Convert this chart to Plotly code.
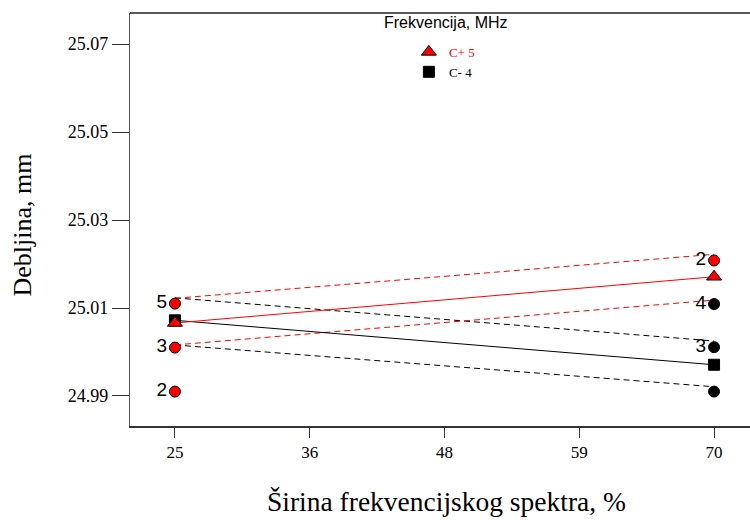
import plotly.graph_objects as go

# ---- data ----
x_levels = [25, 70]
x_tickvals = [25, 36.25, 47.5, 58.75, 70]
x_ticktext = ["25", "36", "48", "59", "70"]
y_tickvals = [24.99, 25.01, 25.03, 25.05, 25.07]
y_ticktext = ["24.99", "25.01", "25.03", "25.05", "25.07"]

c_plus_mean = [25.0066, 25.0171]
c_plus_upper = [25.0122, 25.0222]
c_plus_lower = [25.0016, 25.0118]
c_minus_mean = [25.0072, 24.9971]
c_minus_upper = [25.0123, 25.0025]
c_minus_lower = [25.0016, 24.9921]

red_pts_x = [25, 25, 25, 70]
red_pts_y = [25.0110, 25.0010, 24.9910, 25.0208]
red_pts_lbl = ["5", "3", "2", "2"]
black_pts_x = [70, 70, 70]
black_pts_y = [25.0109, 25.0011, 24.9910]
black_pts_lbl = ["4", "3", ""]

legend_title = "Frekvencija, MHz"
name_plus = "C+ 5"
name_minus = "C- 4"
x_title = "Širina frekvencijskog spektra, %"
y_title = "Debljina, mm"

RED = "#ff0000"
BLK = "#000000"
SERIF = "Liberation Serif, Times New Roman"
SANS = "Liberation Sans, Arial"

fig = go.Figure()

dash = "6px,4px"
# LSD dashed lines
for ys, col in [(c_minus_upper, BLK), (c_minus_lower, BLK),
                (c_plus_upper, RED), (c_plus_lower, RED)]:
    fig.add_trace(go.Scatter(x=x_levels, y=ys, mode="lines",
                             line=dict(color=col, width=1, dash=dash),
                             showlegend=False, hoverinfo="skip"))

# mean lines
fig.add_trace(go.Scatter(x=x_levels, y=c_minus_mean, mode="lines",
                         line=dict(color=BLK, width=1), showlegend=False))
fig.add_trace(go.Scatter(x=x_levels, y=c_plus_mean, mode="lines",
                         line=dict(color=RED, width=1), showlegend=False))

# design points
fig.add_trace(go.Scatter(x=black_pts_x, y=black_pts_y, mode="markers+text",
                         text=black_pts_lbl, textposition="middle left",
                         textfont=dict(family=SANS, size=19, color="#000"),
                         marker=dict(symbol="circle", size=11, color=BLK,
                                     line=dict(color=BLK, width=1)),
                         showlegend=False))
fig.add_trace(go.Scatter(x=red_pts_x, y=red_pts_y, mode="markers+text",
                         text=red_pts_lbl, textposition="middle left",
                         textfont=dict(family=SANS, size=19, color="#000"),
                         marker=dict(symbol="circle", size=11, color=RED,
                                     line=dict(color=BLK, width=1)),
                         showlegend=False))

# mean markers (legend)
fig.add_trace(go.Scatter(x=x_levels, y=c_minus_mean, mode="markers",
                         name="<span style='color:#000000'>%s</span>" % name_minus,
                         marker=dict(symbol="square", size=11, color=BLK,
                                     line=dict(color=BLK, width=1)),
                         legendrank=2))
fig.add_trace(go.Scatter(x=x_levels, y=c_plus_mean, mode="markers",
                         name="<span style='color:#ff0000'>%s</span>" % name_plus,
                         marker=dict(symbol="triangle-up", size=13, color=RED,
                                     line=dict(color=BLK, width=1)),
                         legendrank=1))

fig.add_annotation(text=legend_title, xref="paper", yref="paper",
                   x=0.5097, y=0.978, xanchor="center", yanchor="middle",
                   showarrow=False,
                   font=dict(family=SANS, size=16, color="#000"))
fig.add_annotation(text=x_title, xref="paper", yref="paper",
                   x=0.5097, y=-0.1816, xanchor="center", yanchor="middle",
                   showarrow=False, font=dict(family=SERIF, size=27.5, color="#000"))
fig.add_annotation(text=y_title, xref="paper", yref="paper", textangle=-90,
                   x=-0.1718, y=0.4867, xanchor="center", yanchor="middle",
                   showarrow=False, font=dict(family=SERIF, size=26, color="#000"))

# top frame line
fig.add_shape(type="line", xref="paper", yref="paper", x0=0, x1=1, y0=1, y1=1,
              line=dict(color="#222", width=1.5))

fig.update_layout(
    width=750, height=520,
    margin=dict(l=130, r=0, t=13, b=94),
    paper_bgcolor="white", plot_bgcolor="white",
    font=dict(family=SERIF, color="#000"),
    legend=dict(x=0.4498, y=0.942, xanchor="left", yanchor="top",
                bgcolor="rgba(0,0,0,0)", itemwidth=30,
                font=dict(family=SERIF, size=13),
                traceorder="normal"),
    xaxis=dict(range=[21.25, 73], tickvals=x_tickvals, ticktext=x_ticktext,
               showgrid=False, zeroline=False, showline=True,
               linecolor="#333", linewidth=1.8, ticks="outside", ticklen=10,
               tickcolor="#333", tickfont=dict(size=17)),
    yaxis=dict(range=[24.98318, 25.07705], tickvals=y_tickvals, ticktext=y_ticktext,
               showgrid=False, zeroline=False, showline=True,
               linecolor="#555", linewidth=1.2, ticks="outside", ticklen=17,
               tickcolor="#333", tickfont=dict(size=18)),
)

fig.write_html("out.html", config={"displayModeBar": False},
               post_script="document.body.style.margin='0';document.body.style.overflow='hidden';")
